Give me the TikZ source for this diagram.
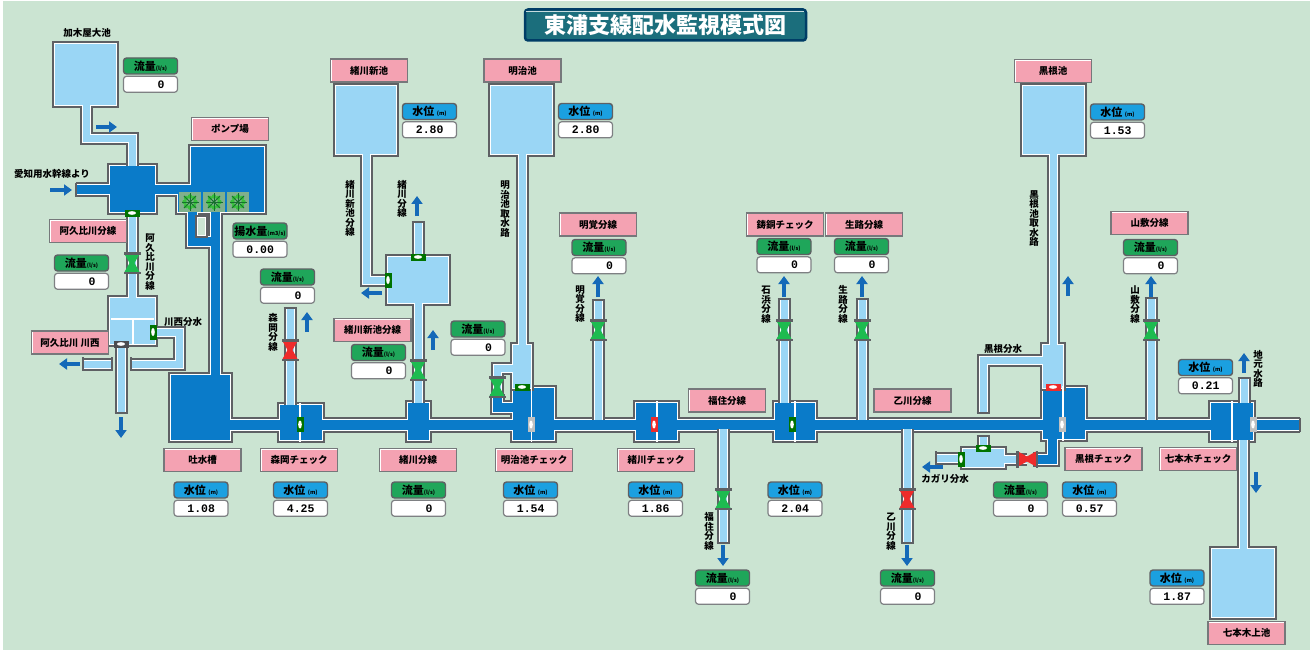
\documentclass[tikz,border=0pt]{standalone}
\usepackage{fontspec}
\setmainfont{Noto Sans CJK JP}
\setmonofont{Liberation Mono}
\usetikzlibrary{positioning}
\usetikzlibrary{arrows.meta}

\definecolor{backdrop}{HTML}{CBE4D2}
\definecolor{pipegray}{HTML}{5E6064}
\definecolor{darkwater}{HTML}{0A7BC9}
\definecolor{lightwater}{HTML}{9AD6F5}
\definecolor{namepink}{HTML}{F4A2B2}
\definecolor{flowgreen}{HTML}{1FA65A}
\definecolor{levelblue}{HTML}{1BA0E0}
\definecolor{arrowblue}{HTML}{1469B8}
\definecolor{valvegreen}{HTML}{1DBB50}
\definecolor{valvered}{HTML}{EE2B2B}
\definecolor{titleteal}{HTML}{1B6E7C}
\definecolor{fanleaf}{HTML}{38C03C}
\definecolor{fandark}{HTML}{17702E}

\tikzset{
  namebox/.style={draw=pipegray!85, line width=1.4pt, fill=namepink, minimum width=77pt, minimum height=23pt, inner sep=0pt, font=\fontsize{9.5}{10}\selectfont\bfseries,
    path picture={\draw[white, line width=2.4pt] (path picture bounding box.south west) -- (path picture bounding box.north west) -- (path picture bounding box.north east);}},
  flowhead/.style={draw=pipegray, line width=1.4pt, rounded corners=3pt, fill=flowgreen, minimum width=54pt, minimum height=16pt, inner sep=0pt, font=\fontsize{11}{11}\selectfont\bfseries},
  levelhead/.style={flowhead, fill=levelblue},
  valuebox/.style={draw=pipegray!80, line width=1.2pt, rounded corners=3pt, fill=white, inner xsep=13pt, inner ysep=0pt, text width=28pt, align=right, minimum height=16pt, font=\fontsize{11.5}{12}\selectfont\ttfamily\bfseries},
  plainlabel/.style={inner sep=0pt, font=\fontsize{9.5}{10}\selectfont\bfseries},
  sidelabel/.style={inner sep=0pt, align=center, font=\fontsize{9.5}{9.5}\selectfont\bfseries},
  flowarrow/.style={draw=arrowblue, line width=3.4pt, -{Triangle[width=11pt,length=8pt]}},
  divider/.style={draw=white, line width=1.5pt},
  endcap/.style={draw=pipegray, line width=2pt}
}

% the three passes of the plumbing: casing, white liner, water
\tikzset{
  casingpass/.style={tube/.style={draw=pipegray, line width=##1+6pt}, block/.style={draw=pipegray, fill=pipegray, line width=6pt}},
  linerpass/.style={tube/.style={draw=white, line width=##1+2pt}, block/.style={draw=white, fill=white, line width=2pt}},
  waterpass/.style={tube/.style={draw=#1, line width=##1}, block/.style={fill=#1}}
}

\newcommand{\darkpaths}{
  % pump house side
  \path[block] (110,166) rectangle (155,212);
  \path[block] (191,147) rectangle (264,212);
  \path[block] (178,194) rectangle (250,212);
  \path[tube={9pt}] (76,190) -- (110,190);
  \path[tube={9pt}] (155,190) -- (191,190);
  \path[tube={9pt}] (192,210) -- (192,241) -- (215,241);
  \path[tube={9pt}] (215,210) -- (215,376);
  \path[block] (171,375) rectangle (230,440);
  % main line and checks
  \path[tube={10pt}] (230,424.5) -- (1300,424.5);
  \path[block] (280,405) rectangle (322,440);
  \path[block] (408,403) rectangle (429,440);
  \path[block] (513,388) rectangle (554,440);
  \path[block] (636,403) rectangle (677,440);
  \path[block] (775,403) rectangle (815,440);
  \path[block] (1043,388) rectangle (1085,439);
  \path[block] (1211,403) rectangle (1253,440);
  \path[tube={9pt}] (497,394) -- (497,407) -- (513,407);
  \path[tube={9pt}] (1052,438) -- (1052,459) -- (1033,459);
}

\newcommand{\lightpaths}{
  % kakiya and agui
  \path[block] (55,44) rectangle (116,105);
  \path[tube={7pt}] (86,105) -- (86,139) -- (132,139) -- (132,166);
  \path[tube={7pt}] (132,212) -- (132,298);
  \path[block] (110,298) rectangle (155,344);
  \path[tube={7pt}] (155,332) -- (179,332) -- (179,364) -- (131,364);
  \path[tube={7pt}] (112,364) -- (83,364);
  \path[tube={7pt}] (121,344) -- (121,413);
  \path[tube={7pt}] (290,405) -- (290,308);
  % ogawa
  \path[block] (336,86) rectangle (396,154);
  \path[tube={7pt}] (366,154) -- (366,280) -- (388,280);
  \path[block] (388,257) rectangle (448,303);
  \path[tube={7pt}] (418,257) -- (418,222);
  \path[tube={7pt}] (418,303) -- (418,403);
  % meiji
  \path[block] (491,86) rectangle (552,154);
  \path[tube={7pt}] (522,154) -- (522,345);
  \path[block] (513,345) rectangle (531,388);
  \path[tube={7pt}] (513,368) -- (497,368) -- (497,394);
  \path[tube={7pt}] (598,300) -- (598,420);
  \path[tube={7pt}] (784,299) -- (784,403);
  \path[tube={7pt}] (862,299) -- (862,420);
  \path[tube={7pt}] (1151,298) -- (1151,420);
  \path[tube={7pt}] (723,429) -- (723,543);
  \path[tube={7pt}] (907,429) -- (907,543);
  % kurone
  \path[block] (1023,86) rectangle (1084,154);
  \path[tube={7pt}] (1053,154) -- (1053,345);
  \path[block] (1043,345) rectangle (1063,388);
  \path[tube={7pt}] (1043,360) -- (983,360) -- (983,413);
  \path[block] (963,449) rectangle (1004,467);
  \path[tube={7pt}] (1004,459) -- (1027,459);
  \path[tube={7pt}] (963,458) -- (936,458);
  \path[tube={7pt}] (983,449) -- (983,436);
  % shichihongi
  \path[tube={7pt}] (1244,403) -- (1244,378);
  \path[tube={7pt}] (1243,440) -- (1243,549);
  \path[block] (1212,549) rectangle (1274,617);
}

\newcommand{\hourglass}[4]{
  \begin{scope}[shift={(#1,#2)}, rotate=#4]
    \fill[#3] (-7.5,-9) -- (7.5,-9) -- (2.5,0) -- (7.5,9) -- (-7.5,9) -- (-2.5,0) -- cycle;
    \fill[pipegray] (-8.5,-11) rectangle (8.5,-8.5);
    \fill[pipegray] (-8.5,8.5) rectangle (8.5,11);
  \end{scope}
}

\newcommand{\smallgate}[4]{
  \begin{scope}[shift={(#1,#2)}, rotate=#4]
    \fill[#3] (-7.5,-3.5) rectangle (7.5,3.5);
    \fill[white] (0,0) ellipse (4 and 1.8);
  \end{scope}
}

\newcommand{\fanwheel}[2]{
  \fill[fandark!55!white] (#1-11,#2-10) rectangle (#1+11,#2+10);
  \foreach \fanangle in {0,45,...,315} {
    \fill[fanleaf] (#1,#2) ++(\fanangle:5.5) circle (2.3);
    \draw[fandark, line width=0.9pt] (#1,#2) -- ++(\fanangle:8.5);
  }
  \fill[fandark] (#1,#2) circle (1.6);
}

\newcommand{\unitls}{{\fontsize{5.5}{6}\selectfont (l/s)}}
\newcommand{\unitm}{\ {\fontsize{5.5}{6}\selectfont (m)}}

\begin{document}
\begin{tikzpicture}[x=1pt, y=-1pt]
  \useasboundingbox (0,0) rectangle (1310,650);
  \fill[white] (0,0) rectangle (1310,650);
  \fill[backdrop] (3,1) rectangle (1310,650);

  % title plate
  \node[draw=black!60!green!60!blue, line width=2.5pt, rounded corners=3pt, fill=titleteal, text=white,
    minimum width=281pt, minimum height=31pt, inner sep=0pt, font=\fontsize{22}{22}\selectfont\bfseries] (title) at (665.5,25) {東浦支線配水監視模式図};
  \draw[white!75!titleteal, line width=1pt] (title.north west)++(2,3) -- ([xshift=-3pt,yshift=-3pt]title.north east);

  % plumbing
  \begin{scope}[casingpass] \darkpaths \end{scope}
  \begin{scope}[linerpass] \darkpaths \end{scope}
  \begin{scope}[waterpass=darkwater] \darkpaths \end{scope}
  \begin{scope}[casingpass] \lightpaths \end{scope}
  \begin{scope}[linerpass] \lightpaths \end{scope}
  \begin{scope}[waterpass=lightwater] \lightpaths \end{scope}

  % closed pipe ends
  \foreach \capx/\capy in {290/308,418/222,598/300,784/299,862/299,1151/298,723/543,907/543,121/413,983/413,983/436,1244/378}
    \draw[endcap] (\capx-6.5,\capy) -- (\capx+6.5,\capy);
  \foreach \capx/\capy in {76/190,1300/424.5,83/364,112/364,131/364,936/458}
    \draw[endcap] (\capx,\capy-7) -- (\capx,\capy+7);

  % white box between the pump outlets
  \draw[pipegray, line width=1.3pt, fill=backdrop] (196,216) rectangle (207,237);
  \draw[white, line width=1pt] (197.5,217.5) rectangle (205.5,235.5);

  % partitions
  \draw[divider] (300,403) -- (300,442);
  \draw[divider] (531.5,386) -- (531.5,442);
  \draw[divider] (657,401) -- (657,442);
  \draw[divider] (795,401) -- (795,442);
  \draw[divider] (1063,386) -- (1063,441);
  \draw[divider] (1232,401) -- (1232,442);
  \draw[divider] (111,319) -- (154,319);
  \draw[divider] (133,319) -- (133,345);

  % pumps
  \fanwheel{190}{202}
  \fanwheel{214}{202}
  \fanwheel{238}{202}

  % valves
  \hourglass{132}{263}{valvegreen}{0}
  \hourglass{290}{350}{valvered}{0}
  \hourglass{418}{370}{valvegreen}{0}
  \hourglass{497}{387}{valvegreen}{0}
  \hourglass{598}{330}{valvegreen}{0}
  \hourglass{784}{330}{valvegreen}{0}
  \hourglass{862}{330}{valvegreen}{0}
  \hourglass{1151}{330}{valvegreen}{0}
  \hourglass{723}{499}{valvegreen}{0}
  \hourglass{907}{499}{valvered}{0}
  \hourglass{1027}{459}{valvered}{90}

  \smallgate{132}{213}{green!45!black}{0}
  \smallgate{153}{332}{green!45!black}{90}
  \smallgate{300}{424.5}{green!45!black}{90}
  \smallgate{388}{280}{green!45!black}{90}
  \smallgate{418}{257}{green!45!black}{0}
  \smallgate{522}{387}{green!45!black}{0}
  \smallgate{792}{424.5}{green!45!black}{90}
  \smallgate{961}{459}{green!45!black}{90}
  \smallgate{983}{448}{green!45!black}{0}
  \smallgate{654}{424.5}{valvered}{90}
  \smallgate{1053}{387}{valvered}{0}
  \smallgate{531}{424.5}{pipegray!40}{90}
  \smallgate{1062}{424.5}{pipegray!40}{90}
  \smallgate{1253}{424.5}{pipegray!40}{90}
  \smallgate{121}{344}{pipegray!80!black}{0}

  % flow direction
  \draw[flowarrow] (96,127) -- (117,127);
  \draw[flowarrow] (50,190) -- (72,190);
  \draw[flowarrow] (80,364) -- (59,364);
  \draw[flowarrow] (121,417) -- (121,438);
  \draw[flowarrow] (307,332) -- (307,312);
  \draw[flowarrow] (382,293) -- (361,293);
  \draw[flowarrow] (417,216) -- (417,196);
  \draw[flowarrow] (433,350) -- (433,330);
  \draw[flowarrow] (598,297) -- (598,276);
  \draw[flowarrow] (784,297) -- (784,276);
  \draw[flowarrow] (862,297) -- (862,276);
  \draw[flowarrow] (1151,297) -- (1151,276);
  \draw[flowarrow] (1068,296) -- (1068,276);
  \draw[flowarrow] (723,545) -- (723,566);
  \draw[flowarrow] (907,545) -- (907,566);
  \draw[flowarrow] (943,467) -- (922,467);
  \draw[flowarrow] (1244,373) -- (1244,353);
  \draw[flowarrow] (1256,472) -- (1256,493);

  % names
  \node[namebox] (npump) at (230,129) {ポンプ場};
  \node[namebox] (nagui) at (88,231) {阿久比川分線};
  \node[namebox] (nkawanishi) at (70,342.5) {阿久比川 川西};
  \node[namebox] (ntosui) at (202.5,460) {吐水槽};
  \node[namebox] (nmorioka) at (299,460) {森岡チェック};
  \node[namebox] (nshinike) at (369,70.5) {緒川新池};
  \node[namebox] (nmeiji) at (522.5,70.5) {明治池};
  \node[namebox] (nmeikaku) at (598,224.5) {明覚分線};
  \node[namebox] (nshinbun) at (372.5,330) {緒川新池分線};
  \node[namebox] (nogawa) at (418,460) {緒川分線};
  \node[namebox] (nmeijichk) at (534,460) {明治池チェック};
  \node[namebox] (nogawachk) at (656,460) {緒川チェック};
  \node[namebox] (nishihama) at (785,224.5) {鋳銅チェック};
  \node[namebox] (nikuji) at (864,224.5) {生路分線};
  \node[namebox] (nfukuzumi) at (727,400.5) {福住分線};
  \node[namebox] (notsu) at (912.5,400.5) {乙川分線};
  \node[namebox] (nyama) at (1149.5,223) {山敷分線};
  \node[namebox] (nkurone) at (1053,71) {黒根池};
  \node[namebox] (nkuronechk) at (1103.5,459) {黒根チェック};
  \node[namebox] (nshichichk) at (1198,459) {七本木チェック};
  \node[namebox] (nshichi) at (1246.5,633) {七本木上池};

  % readings
  \node[flowhead] (fkakiya) at (150.5,66) {流量\unitls};
  \node[valuebox, below=1pt of fkakiya] (vkakiya) {0};
  \node[flowhead] (fyosui) at (260,231) {揚水量{\fontsize{5.5}{6}\selectfont (m3/s)}};
  \node[valuebox, below=1pt of fyosui] (vyosui) {0.00};
  \node[flowhead] (fagui) at (81.5,263) {流量\unitls};
  \node[valuebox, below=1pt of fagui] (vagui) {0};
  \node[flowhead] (fmorioka) at (287.5,277) {流量\unitls};
  \node[valuebox, below=1pt of fmorioka] (vmorioka) {0};
  \node[levelhead] (ltosui) at (201,490) {水位\unitm};
  \node[valuebox, below=1pt of ltosui] (vtosui) {1.08};
  \node[levelhead] (lmorioka) at (300.5,490) {水位\unitm};
  \node[valuebox, below=1pt of lmorioka] (vlmorioka) {4.25};
  \node[levelhead] (lshinike) at (429.5,111.5) {水位\unitm};
  \node[valuebox, below=1pt of lshinike] (vshinike) {2.80};
  \node[levelhead] (lmeiji) at (585.5,111.5) {水位\unitm};
  \node[valuebox, below=1pt of lmeiji] (vmeiji) {2.80};
  \node[flowhead] (fmeikaku) at (599,247.5) {流量\unitls};
  \node[valuebox, below=1pt of fmeikaku] (vmeikaku) {0};
  \node[flowhead] (fshinbun) at (378.5,352.5) {流量\unitls};
  \node[valuebox, below=1pt of fshinbun] (vshinbun) {0};
  \node[flowhead] (fmeiji) at (478,329) {流量\unitls};
  \node[valuebox, below=1pt of fmeiji] (vfmeiji) {0};
  \node[flowhead] (fogawa) at (418.5,490) {流量\unitls};
  \node[valuebox, below=1pt of fogawa] (vogawa) {0};
  \node[levelhead] (lmeijichk) at (530.5,490) {水位\unitm};
  \node[valuebox, below=1pt of lmeijichk] (vmeijichk) {1.54};
  \node[levelhead] (logawachk) at (655.5,490) {水位\unitm};
  \node[valuebox, below=1pt of logawachk] (vogawachk) {1.86};
  \node[levelhead] (lishihama) at (795,490) {水位\unitm};
  \node[valuebox, below=1pt of lishihama] (vlishihama) {2.04};
  \node[flowhead] (fishihama) at (784,246.5) {流量\unitls};
  \node[valuebox, below=1pt of fishihama] (vishihama) {0};
  \node[flowhead] (fikuji) at (861.5,246.5) {流量\unitls};
  \node[valuebox, below=1pt of fikuji] (vikuji) {0};
  \node[flowhead] (fyama) at (1150.5,247.5) {流量\unitls};
  \node[valuebox, below=1pt of fyama] (vyama) {0};
  \node[levelhead] (lkurone) at (1117.5,112) {水位\unitm};
  \node[valuebox, below=1pt of lkurone] (vkurone) {1.53};
  \node[levelhead] (lchigen) at (1205.5,367.5) {水位\unitm};
  \node[valuebox, below=1pt of lchigen] (vchigen) {0.21};
  \node[flowhead] (fkagari) at (1020.5,490) {流量\unitls};
  \node[valuebox, below=1pt of fkagari] (vkagari) {0};
  \node[levelhead] (lkuronechk) at (1089.5,490) {水位\unitm};
  \node[valuebox, below=1pt of lkuronechk] (vkuronechk) {0.57};
  \node[flowhead] (ffukuzumi) at (722.5,578) {流量\unitls};
  \node[valuebox, below=1pt of ffukuzumi] (vfukuzumi) {0};
  \node[flowhead] (fotsu) at (907.5,578) {流量\unitls};
  \node[valuebox, below=1pt of fotsu] (votsu) {0};
  \node[levelhead] (lshichi) at (1177,578) {水位\unitm};
  \node[valuebox, below=1pt of lshichi] (vshichi) {1.87};

  % loose texts
  \node[plainlabel] (tkakiya) at (87,33) {加木屋大池};
  \node[plainlabel] (taichi) at (52,173.5) {愛知用水幹線より};
  \node[plainlabel] (tkawanishi) at (183,322) {川西分水};
  \node[plainlabel] (tkurone) at (1003,349) {黒根分水};
  \node[plainlabel] (tkagari) at (945,479) {カガリ分水};
  \node[sidelabel] (sagui) at (150,262) {阿\\久\\比\\川\\分\\線};
  \node[sidelabel] (smorioka) at (273,332.5) {森\\岡\\分\\線};
  \node[sidelabel] (sshinbun) at (350,208.5) {緒\\川\\新\\池\\分\\線};
  \node[sidelabel] (sogawa) at (402,199) {緒\\川\\分\\線};
  \node[sidelabel] (smeiji) at (505,209) {明\\治\\池\\取\\水\\路};
  \node[sidelabel] (smeikaku) at (580,304) {明\\覚\\分\\線};
  \node[sidelabel] (sishihama) at (766,304.5) {石\\浜\\分\\線};
  \node[sidelabel] (sikuji) at (843,304.5) {生\\路\\分\\線};
  \node[sidelabel] (syama) at (1135,304.5) {山\\敷\\分\\線};
  \node[sidelabel] (skurone) at (1034,218.5) {黒\\根\\池\\取\\水\\路};
  \node[sidelabel] (schigen) at (1258,369) {地\\元\\水\\路};
  \node[sidelabel] (sfukuzumi) at (709,531.5) {福\\住\\分\\線};
  \node[sidelabel] (sotsu) at (891,531.5) {乙\\川\\分\\線};
\end{tikzpicture}
\end{document}
